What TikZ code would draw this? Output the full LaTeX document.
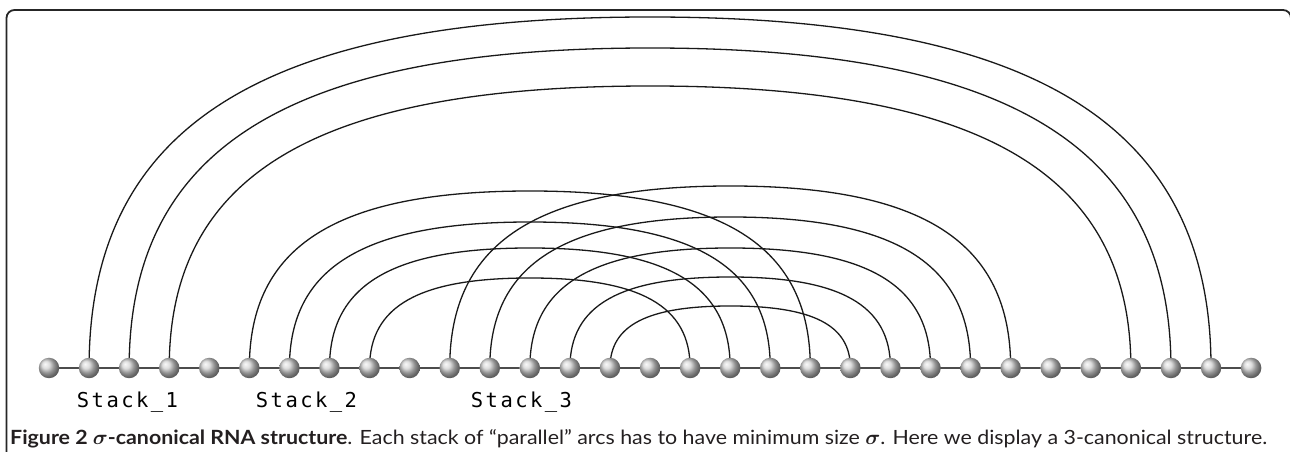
\documentclass[tikz,border=0pt]{standalone}
\usepackage{fontspec}
\usepackage{bm}
\setmainfont[FakeStretch=1.09]{Lato}
\newfontfamily\stackfont[LetterSpace=12]{DejaVu Sans Mono}
\usetikzlibrary{backgrounds,calc}
\definecolor{captext}{HTML}{231F20}
\begin{document}
\begin{tikzpicture}[
    x=1pt, y=1pt,
    bead/.style={circle, inner sep=0pt, minimum size=20.5pt, shading=ball, ball color=gray!35},
    backbone/.style={draw=black!70, line width=1.5pt},
    pairarc/.style={draw=black!90, line width=1.3pt},
    frame/.style={draw=black!85, line width=1.8pt, rounded corners=8pt},
    stacklabel/.style={font=\stackfont\fontsize{20.5}{24}\selectfont, anchor=base, inner sep=0pt},
    caption/.style={font=\fontsize{19.6}{23}\selectfont, text=captext, anchor=base west, inner sep=0pt}
]
\useasboundingbox (0,0) rectangle (1290,452);

\draw[frame] (6.5,-10) -- (6.5,442) -- (1291,442) -- (1291,-10);

\foreach \i in {0,...,30}
    \node[bead] (b\i) at ({49+40.07*\i},84) {};

\begin{scope}[on background layer]
\draw[backbone] (b0.center) -- (b30.center);
\foreach \s/\t/\h in {1/29/351, 2/28/320, 3/27/282,
                      5/19/177, 6/18/146, 7/17/120, 8/16/90,
                      10/24/182, 11/23/151, 12/22/120, 13/21/91, 14/20/62}{
    \pgfmathsetmacro{\hw}{40.07*(\t-\s)/2}
    \draw[pairarc] (b\s.center) .. controls +(0,{0.69*\h}) and +({-0.69*\hw},0)
        .. ($(b\s)!0.5!(b\t)+(0,\h)$) .. controls +({0.69*\hw},0) and +(0,{0.69*\h})
        .. (b\t.center);
}
\end{scope}

\node[stacklabel] (s1) at (127.5,44) {Stack\_1};
\node[stacklabel] (s2) at (306.5,44) {Stack\_2};
\node[stacklabel] (s3) at (521.5,44) {Stack\_3};

\node[caption] (cap) at (10,7.7) {\textbf{Figure 2 $\bm{\sigma}$-canonical RNA structure}. Each stack of “parallel” arcs has to have minimum size $\bm{\sigma}$. Here we display a 3-canonical structure.};

\end{tikzpicture}
\end{document}
